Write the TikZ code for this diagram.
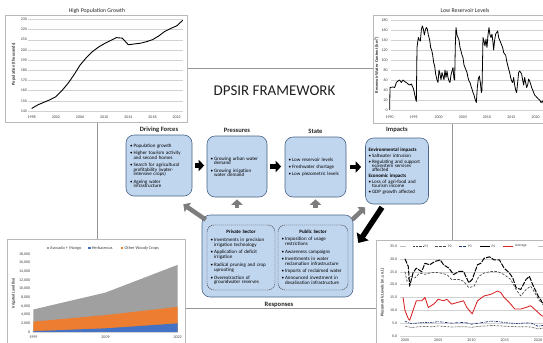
\documentclass[tikz,border=0pt]{standalone}
\usepackage{fontspec}
\setmainfont{Carlito}
\usetikzlibrary{arrows.meta}
\definecolor{boxfill}{RGB}{192,213,238}
\definecolor{boxline}{RGB}{74,100,138}
\definecolor{framegray}{RGB}{150,150,150}
\definecolor{chartborder}{RGB}{185,185,185}
\definecolor{gridgray}{RGB}{210,210,210}
\definecolor{ticktext}{RGB}{64,64,64}
\definecolor{arrgray}{RGB}{125,125,125}
\definecolor{avgray}{RGB}{160,160,160}
\definecolor{herbblue}{RGB}{68,114,196}
\definecolor{woodorange}{RGB}{237,125,49}
\definecolor{avgred}{RGB}{215,35,35}
\definecolor{navyp}{RGB}{32,56,120}
\newcommand\bitem[1]{\noindent\hangindent=3.6pt\hangafter=1\makebox[3.6pt][l]{\textbullet}#1\par}
\newcommand\bhead[1]{\noindent{\bfseries #1}\par}
\newcommand\itemgap[1]{\setlength{\parskip}{#1}\lineskiplimit=-20pt\relax}
\tikzset{
  dbox/.style={draw=boxline, line width=0.6bp, fill=boxfill, rounded corners=8bp,
    align=left, inner xsep=3bp, inner ysep=2bp, font=\fontsize{5}{4.3}\selectfont},
  secbox/.style={draw=black!80, dash pattern=on 1.2bp off 0.8bp, line width=0.45bp,
    fill=boxfill, rounded corners=7bp, align=left, inner xsep=3bp, inner ysep=2bp,
    font=\fontsize{5}{4.9}\selectfont},
  boxlabel/.style={font=\fontsize{6.6}{7}\selectfont\bfseries, text=black!85, inner sep=0pt, anchor=base},
  blkarrow/.style={draw=black, line width=4.5bp, -{Triangle[length=5.5bp,width=11bp]}},
  grarrow/.style={draw=arrgray, line width=4.5bp, -{Triangle[length=5.5bp,width=11bp]}},
  bigarrow/.style={draw=black, line width=5.5bp, -{Triangle[length=8bp,width=14bp]}},
  frameline/.style={draw=framegray, line width=0.7bp},
  chartbox/.style={draw=chartborder, line width=0.5bp, fill=white, inner sep=0pt, anchor=north west},
  ticklab/.style={font=\fontsize{4}{4}\selectfont, text=ticktext, inner sep=0.4bp},
  leglab/.style={font=\fontsize{4.3}{4.3}\selectfont, text=ticktext, inner sep=0.3bp, anchor=west},
  axlab/.style={font=\fontsize{4.4}{4.4}\selectfont\bfseries, text=black!80, inner sep=0pt, rotate=90},
  charttitle/.style={font=\fontsize{5.8}{6}\selectfont, text=black!85, inner sep=0pt},
  gridln/.style={draw=gridgray, line width=0.35bp},
  dataln/.style={line width=0.8bp, line join=round},
}
\begin{document}
\begin{tikzpicture}[x=1bp,y=-1bp]
\useasboundingbox (0,0) rectangle (543,342);
\fill[white] (0,0) rectangle (543,342);
\draw[frameline] (97,68) rectangle (452,308);

% ---------- chart 1: population ----------
\node[chartbox, minimum width=182bp, minimum height=107bp] (c1) at (5,15) {};
\node[charttitle] (c1t) at (97,10.5) {High Population Growth};
\begin{scope}[shift={(31.7bp,-111bp)}, x=6.04bp, y=1.019bp]
  \foreach \v in {0,10,...,90} {
    \draw[gridln] (-0.6,\v) -- (25.1,\v);
    \pgfmathtruncatemacro\lab{140+\v}
    \node[ticklab, anchor=east] at (-0.7,\v) {\lab};
  }
  \foreach \yr in {0,4,...,24} {
    \pgfmathtruncatemacro\lab{1998+\yr}
    \node[ticklab] at (\yr,-6) {\lab};
  }
  \node[axlab] at (-3,46) {Population (thousands)};
  \draw[dataln, black, line width=0.9bp] plot coordinates {(0,2.5) (1,6) (2,8.5) (3,11) (4,14) (5,20) (6,27) (7,35.5) (8,45) (9,52) (10,58) (11,62.5) (12,66) (13,69) (14,72) (15,71.5) (16,65) (17,65.8) (18,66.5) (19,68) (20,70) (21,73.5) (22,78) (23,81) (24,83.5) (25,89)};
\end{scope}

% ---------- chart 2: reservoir ----------
\node[chartbox, minimum width=175bp, minimum height=108bp] (c2) at (373,15) {};
\node[charttitle] (c2t) at (465,10.5) {Low Reservoir Levels};
\begin{scope}[shift={(343bp,-110bp)}, x=0.3333bp, y=0.5bp]
  \foreach \v in {0,20,...,180} {
    \draw[gridln] (144,\v) -- (610,\v);
    \node[ticklab, anchor=east] at (136,\v) {\v};
  }
  \foreach \px/\yr in {140/1990,212/1995,287/2000,360/2005,432/2010,505/2015,578/2020}
    \node[ticklab] at (\px,-14) {\yr};
  \node[axlab] at (100,90) {Reservoir Water Content (hm\textsuperscript{3})};
  \draw[dataln, black] plot coordinates {(140,0) (141,45) (150,46) (155,45) (160,55) (165,58) (170,60) (175,55) (180,60) (185,57) (190,55) (195,52) (200,50) (205,52) (210,45) (213,38) (216,28) (220,17) (222,125) (226,145) (229,140) (232,138) (235,160) (238,168) (241,162) (244,150) (247,160) (250,165) (253,162) (256,150) (260,140) (263,125) (266,120) (269,110) (272,95) (275,88) (278,72) (282,60) (285,55) (288,80) (291,72) (294,60) (297,75) (300,68) (303,60) (306,80) (309,65) (312,78) (315,65) (318,58) (321,55) (324,70) (327,78) (330,85) (333,62) (335,60) (337,130) (339,165) (342,150) (345,145) (348,140) (351,125) (354,118) (357,110) (360,105) (363,90) (366,85) (369,80) (372,75) (375,65) (378,58) (381,55) (384,48) (387,42) (390,35) (393,30) (396,22) (400,15) (403,45) (406,62) (409,68) (412,55) (415,35) (417,40) (420,145) (423,138) (426,128) (429,142) (432,125) (435,150) (438,165) (441,150) (444,145) (447,152) (450,135) (452,120) (455,140) (458,152) (461,155) (464,158) (467,145) (470,140) (473,135) (476,130) (479,125) (482,115) (485,112) (488,110) (491,98) (494,90) (497,82) (500,75) (503,65) (506,58) (509,55) (512,65) (515,50) (518,40) (521,35) (524,55) (527,75) (530,78) (533,75) (536,72) (539,60) (542,50) (545,65) (548,55) (551,45) (554,50) (557,62) (560,58) (563,52) (566,45) (569,40) (572,35) (575,30) (578,28) (582,25) (586,22) (590,20) (594,15) (598,18) (602,12) (606,10)};
\end{scope}

% ---------- chart 3: irrigated land ----------
\node[chartbox, minimum width=178bp, minimum height=108bp] (c3) at (7,239) {};
\begin{scope}[shift={(33.3bp,-332bp)}, x=72.2bp, y=4.333bp]
  \fill[avgray] (0,0) -- (0,5.2) -- (1,9.1) -- (2,15.5) -- (2,0) -- cycle;
  \fill[woodorange] (0,0) -- (0,2.4) -- (1,3.9) -- (2,5.8) -- (2,0) -- cycle;
  \fill[herbblue] (0,0) -- (0,0.2) -- (1,0.85) -- (2,2.0) -- (2,0) -- cycle;
  \draw[gridln] (0,0) -- (2,0);
  \foreach \v/\lab in {0/0,2/{2,000},4/{4,000},6/{6,000},8/{8,000},10/{10,000},12/{12,000},14/{14,000},16/{16,000},18/{18,000}}
    \node[ticklab, anchor=east] at ([xshift=-2.5bp]0,\v) {\lab};
  \foreach \c/\lab in {0/1999,1/2009,2/2022}
    \node[ticklab] at (\c,-1.15) {\lab};
  \node[axlab, font=\fontsize{4}{4}\selectfont\bfseries] at (-0.276,9) {Irrigated Land (ha)};
\end{scope}
\fill[avgray] (46.6,246.9) rectangle (48.8,249.1);
\node[leglab] (l1) at (49.6,248) {Avocado + Mango};
\fill[herbblue] (88.3,246.9) rectangle (90.5,249.1);
\node[leglab] (l2) at (91.3,248) {Herbaceous};
\fill[woodorange] (121,246.9) rectangle (123.2,249.1);
\node[leglab] (l3) at (124,248) {Other Woody Crops};

% ---------- chart 4: piezometric ----------
\node[chartbox, minimum width=172bp, minimum height=106bp] (c4) at (376,240) {};
\begin{scope}[shift={(405bp,-336bp)}, x=6.65bp, y=2.571bp]
  \foreach \v in {0,5,...,30} \draw[gridln] (-0.7,\v) -- (21.3,\v);
  \foreach \v in {0,5,...,35} \node[ticklab, anchor=east] at (-1.1,\v) {\v.0};
  \foreach \yr in {0,5,...,20} {
    \pgfmathtruncatemacro\lab{2000+\yr}
    \node[ticklab] at (\yr,-1.6) {\lab};
  }
  \node[axlab, font=\fontsize{4.2}{4.2}\selectfont\bfseries] at (-3.4,17) {Piezometric Levels (m.s.n.l.)};
  \draw[dataln, black!75, line width=0.7bp, dash pattern=on 0.6bp off 0.8bp] plot coordinates {(0,3.8) (1,3.3) (2,3.6) (3,3.7) (4,3.6) (5,3.9) (6,3.7) (7,3.5) (8,3.6) (9,3.6) (10,3.4) (11,3.7) (12,3.9) (13,4.1) (14,4) (15,3.8) (16,3.7) (17,3.6) (18,3.6) (19,3.5) (20,2.8) (21,3.1)};
  \draw[dataln, navyp, line width=0.7bp, dash pattern=on 2.5bp off 1bp on 0.6bp off 1bp] plot coordinates {(0,5.8) (0.5,5.2) (1,4.8) (2,5.1) (3,5.3) (4,5.2) (5,5.6) (6,5.3) (7,5) (8,5.2) (9,5.3) (10,4.6) (11,5) (12,5.4) (13,5.8) (14,5.6) (15,5.2) (16,5) (17,4.8) (18,5.1) (19,5) (20,3.8) (21,4.2)};
  \draw[dataln, black!70, line width=0.7bp, dash pattern=on 2.5bp off 1.5bp] plot coordinates {(0,25) (0.3,21.3) (0.7,23.2) (1.5,22.6) (2.2,24.5) (3,24) (3.7,24.5) (4.5,24.8) (5.3,24.5) (6.3,23.9) (7,22) (8.1,22) (8.8,21.3) (9.6,18.8) (10.4,19.4) (11.1,23.2) (11.9,24.5) (12.9,25.1) (13.9,25.1) (14.9,23.9) (15.9,22) (16.7,18.1) (17.4,15.6) (18.2,18.1) (18.9,19.4) (19.5,16.9) (20.2,13.7) (21,12.4)};
  \draw[dataln, black, line width=1bp, dash pattern=on 5bp off 1.2bp] plot coordinates {(0,30) (0.5,27) (0.7,19.4) (1.2,24.5) (1.7,26.4) (2.5,25) (3,28.3) (3.7,27.7) (4.5,29) (5.3,29.6) (5.8,27.7) (6.6,26.4) (7.3,23.9) (8.1,25.1) (8.8,25.1) (9.6,20.7) (10.1,22) (10.9,27.7) (11.4,28.3) (11.9,30.2) (12.7,30.8) (13.4,29.6) (14.2,29.6) (14.9,26.4) (15.7,24.5) (16.2,22.6) (16.7,18.8) (17.4,18.1) (18.2,22) (18.7,23.2) (19.2,20) (20,15.6) (20.5,13.7) (21,11)};
  \draw[dataln, avgred, line width=0.85bp] plot coordinates {(-0.3,15) (0,9.9) (0.5,6.7) (0.7,6.1) (1.2,9.9) (1.7,13.7) (2.5,13.7) (3,15) (3.5,11.1) (4.3,12.4) (5,14.3) (5.8,13.7) (6.3,14.3) (7,12.4) (7.8,13) (8.8,13.7) (9.3,11.1) (10.1,8.6) (10.9,13.7) (11.9,15.6) (12.9,16.2) (13.9,17.5) (14.4,16.9) (14.9,15) (15.7,13) (16.5,10.5) (17.4,10.5) (18.2,11.1) (18.9,11.8) (19.7,9.9) (20.5,8) (21,7.4)};
\end{scope}
\draw[gray!50, line width=0.6bp] (400,246) -- (406,246);
\draw[black!75, line width=0.6bp, dash pattern=on 0.6bp off 0.8bp] (413,246) -- (423,246);
\node[leglab, font=\fontsize{3.6}{3.6}\selectfont] (lp1) at (424,246) {P1};
\draw[black!70, line width=0.6bp, dash pattern=on 2.5bp off 1.5bp] (435,246) -- (446,246);
\node[leglab, font=\fontsize{3.6}{3.6}\selectfont] (lp2) at (447.5,246) {P2};
\draw[navyp, line width=0.6bp, dash pattern=on 2.5bp off 1bp on 0.6bp off 1bp] (459,246) -- (466,246);
\node[leglab, font=\fontsize{3.6}{3.6}\selectfont] (lp3) at (467.5,246) {P3};
\draw[black, line width=0.95bp] (480,246) -- (490,246);
\node[leglab, font=\fontsize{3.6}{3.6}\selectfont] (lp4) at (491,246) {P4};
\draw[avgred, line width=0.8bp] (503,246) -- (513,246);
\node[leglab, font=\fontsize{3.6}{3.6}\selectfont] (lav) at (514.5,246) {Average};
\draw[gray!50, line width=0.6bp] (538,246) -- (545,246);

% ---------- title ----------
\node[font=\fontsize{15}{15}\selectfont, text=black!88, anchor=base, inner sep=0pt] (title) at (274.5,95) {DPSIR FRAMEWORK};

% ---------- DPSIR boxes ----------
\node[dbox, text width=58bp, minimum width=66bp, minimum height=61bp] (df) at (159,165.5) {\itemgap{3.4bp}%
\bitem{Population growth}%
\bitem{Higher tourism activity\newline and second homes}%
\bitem{Search for agricultural\newline profitability (water-\newline intensive crops)}%
\bitem{Ageing water\newline infrastructure}};
\node[dbox, text width=53bp, minimum width=60bp, minimum height=61bp] (pr) at (237,166.5) {\itemgap{3.4bp}%
\bitem{Growing urban water\newline demand}%
\bitem{Growing irrigation\newline water demand}};
\node[dbox, text width=54bp, minimum width=61bp, minimum height=60bp] (st) at (315.5,167) {\itemgap{3bp}%
\bitem{Low reservoir levels}%
\bitem{Freshwater shortage}%
\bitem{Low piezometric levels}};
\node[dbox, text width=57bp, minimum width=62bp, minimum height=66bp] (im) at (397,171) {\itemgap{1.5bp}%
\bhead{Environmental impacts}%
\bitem{Saltwater intrusion}%
\bitem{Regulating and support\newline ecosystem services\newline affected}%
\bhead{Economic impacts}%
\bitem{Loss of agri-food and\newline tourism income}%
\bitem{GDP growth affected}};
\node[dbox, minimum width=151bp, minimum height=82bp] (rs) at (277.5,256) {};
\node[secbox, text width=61bp, minimum width=68bp, minimum height=65bp] (ps) at (241,257.5) {\itemgap{2.8bp}%
{\centering\bfseries Private Sector\par}%
\bitem{Investments in precision\newline irrigation technology}%
\bitem{Application of deficit\newline irrigation}%
\bitem{Radical pruning and crop\newline uprooting}%
\bitem{Overextraction of\newline groundwater reserves}};
\node[secbox, text width=63bp, minimum width=70bp, minimum height=65bp] (pu) at (313,257.5) {\itemgap{2.4bp}%
{\centering\bfseries Public Sector\par}%
\bitem{Imposition of usage\newline restrictions}%
\bitem{Awareness campaigns}%
\bitem{Investments in water\newline reclamation infrastructure}%
\bitem{Imports of reclaimed water}%
\bitem{Announced investment in\newline desalination infrastructure}};

% ---------- labels ----------
\node[boxlabel] (dfl) at (159,131) {Driving Forces};
\node[boxlabel] (prl) at (237,132) {Pressures};
\node[boxlabel] (stl) at (315.5,133) {State};
\node[boxlabel] (iml) at (397,131.5) {Impacts};
\node[boxlabel] (rsl) at (279,306) {Responses};

% ---------- arrows ----------
\draw[blkarrow, shorten <=2.5bp, shorten >=2.5bp] (df.east) -- (df.east -| pr.west);
\draw[blkarrow, shorten <=2.5bp, shorten >=3.5bp] (pr.east) -- (pr.east -| st.west);
\draw[blkarrow, shorten <=4bp, shorten >=4bp] (st.east) -- (st.east -| im.west);
\draw[grarrow, shorten <=7bp, shorten >=2bp] (rs.north -| pr.south) -- (pr.south);
\draw[grarrow, shorten <=7bp, shorten >=2bp] (rs.north -| st.south) -- (st.south);
\draw[grarrow] ([shift={(4,5)}]rs.north west) -- ([shift={(-9,8)}]df.south east);
\draw[grarrow] ([shift={(-1,5)}]rs.north east) -- ([shift={(0,3)}]im.south west);
\draw[bigarrow] ([shift={(-15,3)}]im.south) -- ([shift={(5,-13)}]rs.east);
\end{tikzpicture}
\end{document}
